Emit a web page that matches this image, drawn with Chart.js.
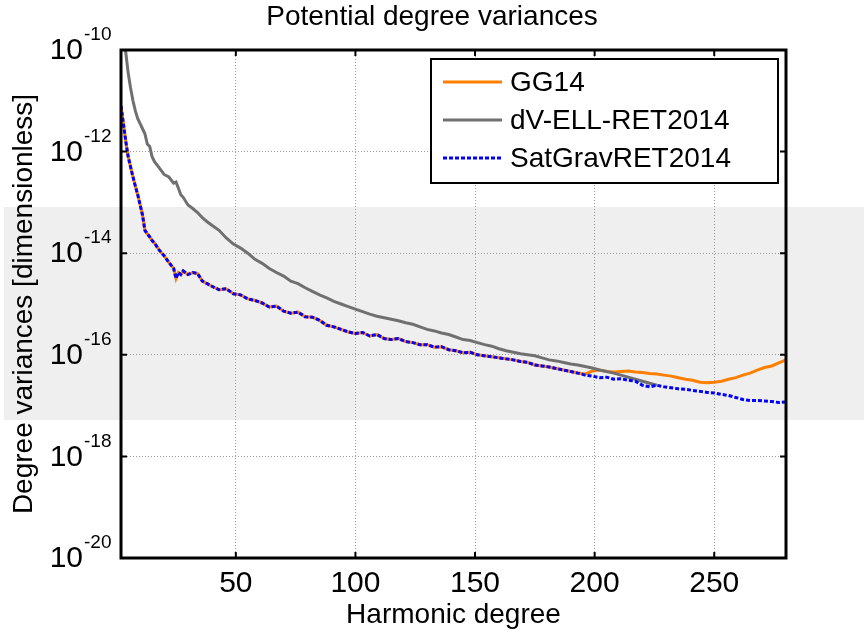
<!DOCTYPE html>
<html>
<head>
<meta charset="utf-8">
<script src="https://cdn.jsdelivr.net/npm/chart.js@4.4.1/dist/chart.umd.min.js"></script>
<style>
  html, body { margin: 0; padding: 0; background: #fff; }
  #wrap { width: 864px; height: 640px; }
</style>
</head>
<body>
<div id="wrap"><canvas id="grafico" width="864" height="640"></canvas></div>
<script>
// harmonic degrees where the curves were read
const degrees = [2,3,4,5,6,7,8,9,10,11,12,13,14,15,16,18,20,22,24,25,26,27,28,30,32,34,36,38,40,
  43,46,49,52,55,58,61,64,67,70,73,76,79,82,85,88,91,94,97,100,
  103,106,109,112,115,118,121,124,127,130,133,136,139,142,145,148,151,154,157,160,
  163,166,169,172,175,178,181,184,187,190,193,196,199,202,205,208,211,214,217,220,
  223,226,229,232,235,238,241,244,247,250,253,256,259,262,265,268,271,274,277,280];

// log10 of degree variances
const satGravLog = [-11.1,-11.45,-11.8,-12.1,-12.3,-12.5,-12.68,-12.85,-13.05,-13.25,-13.55,-13.62,-13.68,-13.75,-13.8,-13.94,-14.05,-14.18,-14.3,-14.5,-14.38,-14.42,-14.35,-14.42,-14.38,-14.4,-14.55,-14.6,-14.65,
  -14.72,-14.7,-14.8,-14.82,-14.9,-14.93,-14.98,-15.06,-15.04,-15.14,-15.18,-15.16,-15.25,-15.26,-15.32,-15.42,-15.45,-15.5,-15.55,-15.58,
  -15.56,-15.63,-15.6,-15.68,-15.7,-15.68,-15.74,-15.76,-15.8,-15.8,-15.85,-15.84,-15.9,-15.92,-15.96,-15.95,-16.0,-16.02,-16.04,-16.06,
  -16.08,-16.1,-16.13,-16.15,-16.2,-16.22,-16.24,-16.27,-16.3,-16.33,-16.36,-16.4,-16.42,-16.45,-16.44,-16.48,-16.47,-16.5,-16.52,-16.6,
  -16.63,-16.6,-16.63,-16.65,-16.67,-16.68,-16.7,-16.72,-16.74,-16.75,-16.78,-16.8,-16.84,-16.88,-16.9,-16.9,-16.91,-16.92,-16.94,-16.93];

const dvEllLog = [-9.5,-9.8,-10.05,-10.45,-10.75,-11.0,-11.2,-11.35,-11.45,-11.55,-11.65,-11.85,-11.9,-12.1,-12.2,-12.32,-12.45,-12.5,-12.62,-12.6,-12.72,-12.85,-12.9,-13.05,-13.12,-13.2,-13.3,-13.38,-13.45,
  -13.55,-13.7,-13.82,-13.9,-14.0,-14.12,-14.2,-14.3,-14.38,-14.45,-14.55,-14.6,-14.68,-14.75,-14.82,-14.88,-14.95,-15.0,-15.05,-15.1,
  -15.15,-15.2,-15.24,-15.27,-15.3,-15.33,-15.37,-15.4,-15.45,-15.5,-15.53,-15.57,-15.6,-15.65,-15.7,-15.72,-15.76,-15.8,-15.83,-15.88,
  -15.92,-15.95,-15.98,-16.0,-16.02,-16.06,-16.1,-16.12,-16.15,-16.18,-16.2,-16.23,-16.26,-16.3,-16.33,-16.36,-16.4,-16.44,-16.48,-16.52,
  -16.56,-16.6,null,null,null,null,null,null,null,null,null,null,null,null,null,null,null,null,null,null];

// GG14 lies on SatGravRET2014 up to degree 193, then splits off
const gg14Log = [-11.1,-11.45,-11.8,-12.1,-12.3,-12.5,-12.68,-12.85,-13.05,-13.25,-13.55,-13.62,-13.68,-13.75,-13.8,-13.94,-14.05,-14.18,-14.3,-14.5,-14.38,-14.42,-14.35,-14.42,-14.38,-14.4,-14.55,-14.6,-14.65,
  -14.72,-14.7,-14.8,-14.82,-14.9,-14.93,-14.98,-15.06,-15.04,-15.14,-15.18,-15.16,-15.25,-15.26,-15.32,-15.42,-15.45,-15.5,-15.55,-15.58,
  -15.56,-15.63,-15.6,-15.68,-15.7,-15.68,-15.74,-15.76,-15.8,-15.8,-15.85,-15.84,-15.9,-15.92,-15.96,-15.95,-16.0,-16.02,-16.04,-16.06,
  -16.08,-16.1,-16.13,-16.15,-16.2,-16.22,-16.24,-16.27,-16.3,-16.33,-16.36,-16.38,-16.32,-16.3,-16.33,-16.34,-16.33,-16.32,-16.34,-16.35,
  -16.37,-16.38,-16.4,-16.42,-16.45,-16.48,-16.5,-16.54,-16.55,-16.54,-16.52,-16.48,-16.45,-16.4,-16.36,-16.3,-16.25,-16.22,-16.16,-16.1];

const xTicks = [50, 100, 150, 200, 250];
const yExponents = [-10, -12, -14, -16, -18, -20];
const chartTitle = 'Potential degree variances';

const FONT = '"Liberation Sans", Arial, sans-serif';

function toPoints(logs) {
  return degrees.map((d, i) => ({ x: d, y: logs[i] === null ? null : Math.pow(10, logs[i]) }));
}

const deco = {
  id: 'deco',
  beforeDraw(chart) {
    const ctx = chart.ctx;
    ctx.save();
    ctx.fillStyle = '#ffffff';
    ctx.fillRect(0, 0, chart.width, chart.height);
    ctx.fillStyle = '#efefef';
    ctx.fillRect(4, 207, chart.width - 4, 213);
    ctx.restore();
  },
  afterDraw(chart) {
    const ctx = chart.ctx;
    const a = chart.chartArea;
    const xs = chart.scales.x, ys = chart.scales.y;
    ctx.save();
    // title, centred on the whole figure
    ctx.fillStyle = '#000';
    ctx.font = '28px ' + FONT;
    ctx.textAlign = 'center';
    ctx.textBaseline = 'alphabetic';
    ctx.fillText(chartTitle, 432, 25);

    // inward tick marks
    ctx.strokeStyle = '#000';
    ctx.lineWidth = 2;
    ctx.beginPath();
    xTicks.forEach(v => {
      const px = xs.getPixelForValue(v);
      ctx.moveTo(px, a.bottom); ctx.lineTo(px, a.bottom - 6);
      ctx.moveTo(px, a.top); ctx.lineTo(px, a.top + 6);
    });
    yExponents.forEach(e => {
      const py = ys.getPixelForValue(Math.pow(10, e));
      ctx.moveTo(a.left, py); ctx.lineTo(a.left + 6, py);
      ctx.moveTo(a.right, py); ctx.lineTo(a.right - 6, py);
    });
    ctx.stroke();
    // frame
    ctx.lineWidth = 3;
    ctx.strokeRect(a.left, a.top, a.right - a.left, a.bottom - a.top);

    // y tick labels with exponent
    ctx.fillStyle = '#000';
    yExponents.forEach(e => {
      const py = ys.getPixelForValue(Math.pow(10, e));
      ctx.font = '30px ' + FONT;
      ctx.textAlign = 'right';
      ctx.textBaseline = 'middle';
      ctx.fillText('10', 83, py + 1);
      ctx.font = '19px ' + FONT;
      ctx.textAlign = 'left';
      ctx.fillText(String(e), 84, py - 15);
    });

    // legend box
    const bx = 431, by = 59, bw = 347, bh = 124;
    ctx.fillStyle = '#fff';
    ctx.fillRect(bx, by, bw, bh);
    ctx.lineWidth = 2;
    ctx.strokeStyle = '#000';
    ctx.strokeRect(bx, by, bw, bh);
    chart.data.datasets.forEach((ds, i) => {
      const yy = 82 + i * 38;
      ctx.beginPath();
      ctx.strokeStyle = ds.borderColor;
      ctx.lineWidth = ds.borderWidth;
      ctx.setLineDash(ds.borderDash || []);
      ctx.moveTo(443, yy); ctx.lineTo(502, yy);
      ctx.stroke();
      ctx.setLineDash([]);
      ctx.fillStyle = '#000';
      ctx.font = '28px ' + FONT;
      ctx.textAlign = 'left';
      ctx.textBaseline = 'middle';
      ctx.fillText(ds.label, 510, yy + 1);
    });
    ctx.restore();
  }
};

new Chart(document.getElementById('grafico'), {
  type: 'line',
  data: {
    datasets: [
      { label: 'GG14', data: toPoints(gg14Log), borderColor: 'rgb(255,128,0)', borderWidth: 3, order: 3 },
      { label: 'dV-ELL-RET2014', data: toPoints(dvEllLog), borderColor: 'rgb(112,112,112)', borderWidth: 3, order: 2 },
      { label: 'SatGravRET2014', data: toPoints(satGravLog), borderColor: 'rgb(0,0,255)', borderWidth: 3, borderDash: [4, 2], order: 1 }
    ]
  },
  options: {
    responsive: false,
    animation: false,
    events: [],
    spanGaps: false,
    elements: { point: { radius: 0 }, line: { tension: 0 } },
    layout: { padding: { left: 0, right: 78, top: 50, bottom: 0 } },
    plugins: {
      legend: { display: false },
      tooltip: { enabled: false },
      title: { display: false }
    },
    scales: {
      x: {
        type: 'linear',
        min: 2,
        max: 280,
        afterBuildTicks: s => { s.ticks = xTicks.map(v => ({ value: v })); },
        afterFit: s => { s.height = 82; },
        grid: { color: '#9a9a9a', drawTicks: false, lineWidth: 1 },
        border: { display: false, dash: [1, 2] },
        ticks: { color: '#000', font: { family: FONT, size: 30 }, padding: 8, maxRotation: 0 },
        title: {
          display: true,
          text: 'Harmonic degree',
          color: '#000',
          font: { family: FONT, size: 28 },
          padding: { top: 0, bottom: 8 }
        }
      },
      y: {
        type: 'logarithmic',
        min: 1e-20,
        max: 1e-10,
        afterBuildTicks: s => { s.ticks = yExponents.map(e => ({ value: Math.pow(10, e) })); },
        afterFit: s => { s.width = 121; },
        grid: { color: '#9a9a9a', drawTicks: false, lineWidth: 1 },
        border: { display: false, dash: [1, 2] },
        ticks: { display: false },
        title: {
          display: true,
          text: 'Degree variances [dimensionless]',
          color: '#000',
          font: { family: FONT, size: 28 },
          padding: { top: 7, bottom: 0 }
        }
      }
    }
  },
  plugins: [deco]
});
</script>
</body>
</html>
